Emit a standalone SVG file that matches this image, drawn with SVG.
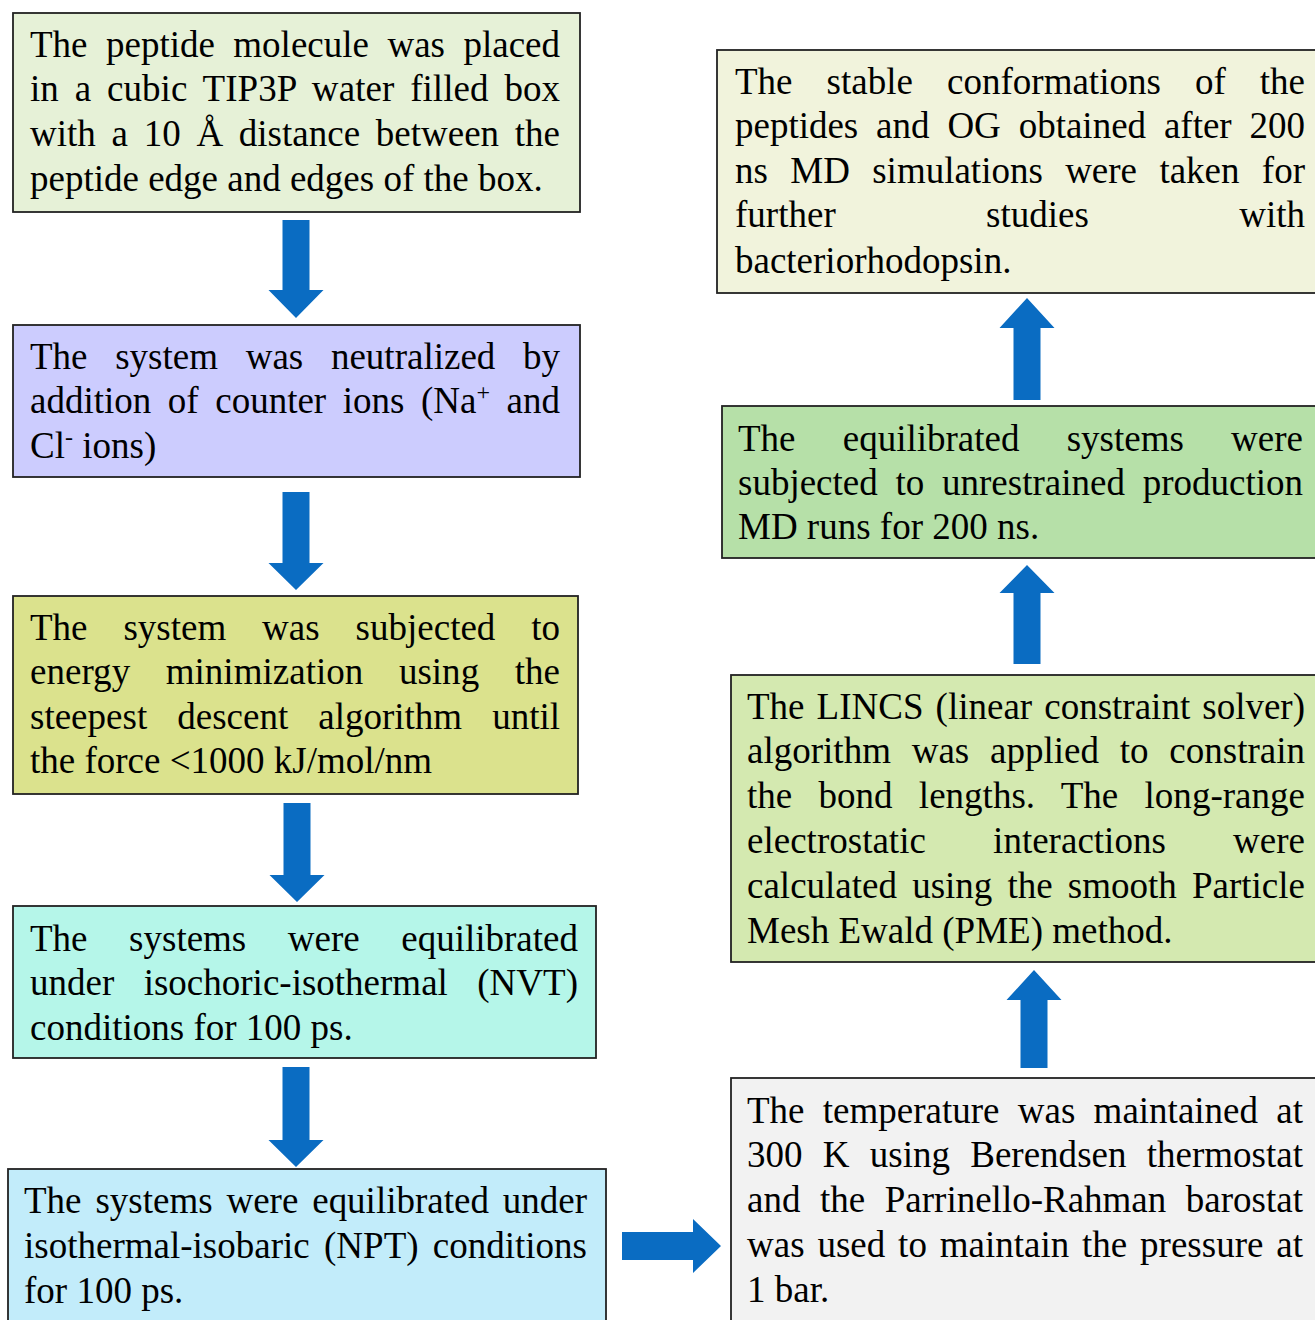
<svg xmlns="http://www.w3.org/2000/svg" width="1315" height="1320" viewBox="0 0 1315 1320">
<style>
.box{stroke:#222222;stroke-width:1.8}
.t{font-family:"Liberation Serif","Times New Roman",serif;font-size:37px;fill:#000000}
.arr{fill:#0a6cc2}
</style>
<rect width="1315" height="1320" fill="#ffffff"/>
<g id="connectors">
<polygon class="arr" points="282.5,220 309.5,220 309.5,290 323.5,290 296,318 268.5,290 282.5,290"/>
<polygon class="arr" points="282.5,492 309.5,492 309.5,563 323.5,563 296,590 268.5,563 282.5,563"/>
<polygon class="arr" points="283.5,803 310.5,803 310.5,875 324.5,875 297,902 269.5,875 283.5,875"/>
<polygon class="arr" points="282.5,1067 309.5,1067 309.5,1140 323.5,1140 296,1167 268.5,1140 282.5,1140"/>
<polygon class="arr" points="622,1232 693,1232 693,1219 721,1246 693,1273 693,1260 622,1260"/>
<polygon class="arr" points="1020.5,1068 1047.5,1068 1047.5,1000 1061.5,1000 1034,970 1006.5,1000 1020.5,1000"/>
<polygon class="arr" points="1013.5,664 1040.5,664 1040.5,593 1054.5,593 1027,565 999.5,593 1013.5,593"/>
<polygon class="arr" points="1013.5,400 1040.5,400 1040.5,328 1054.5,328 1027,298 999.5,328 1013.5,328"/>
</g>
<g id="node1">
<rect class="box" x="13" y="13" width="567" height="199" fill="#e6f1d7"/>
<text class="t" x="30" y="57" word-spacing="9.2" textLength="530" lengthAdjust="spacing">The peptide molecule was placed</text>
<text class="t" x="30" y="101" word-spacing="6.5" textLength="530" lengthAdjust="spacing">in a cubic TIP3P water filled box</text>
<text class="t" x="30" y="146" word-spacing="6.5" textLength="530" lengthAdjust="spacing">with a 10 Å distance between the</text>
<text class="t" x="30" y="191">peptide edge and edges of the box.</text>
</g>
<g id="node2">
<rect class="box" x="13" y="325" width="567" height="152" fill="#ccccfe"/>
<text class="t" x="30" y="369" word-spacing="18.4" textLength="530" lengthAdjust="spacing">The system was neutralized by</text>
<text class="t" x="30" y="413" word-spacing="7.3" textLength="530" lengthAdjust="spacing">addition of counter ions (Na<tspan font-size="24" dy="-13">+</tspan><tspan dy="13"> and</tspan></text>
<text class="t" x="30" y="458">Cl<tspan font-size="24" dy="-13">-</tspan><tspan dy="13"> ions)</tspan></text>
</g>
<g id="node3">
<rect class="box" x="13" y="596" width="565" height="198" fill="#dbe28d"/>
<text class="t" x="30" y="640" word-spacing="26.6" textLength="530" lengthAdjust="spacing">The system was subjected to</text>
<text class="t" x="30" y="684" word-spacing="26.3" textLength="530" lengthAdjust="spacing">energy minimization using the</text>
<text class="t" x="30" y="729" word-spacing="20.8" textLength="530" lengthAdjust="spacing">steepest descent algorithm until</text>
<text class="t" x="30" y="773">the force &lt;1000 kJ/mol/nm</text>
</g>
<g id="node4">
<rect class="box" x="13" y="906" width="583" height="152" fill="#b5f6e9"/>
<text class="t" x="30" y="951" word-spacing="32.3" textLength="548" lengthAdjust="spacing">The systems were equilibrated</text>
<text class="t" x="30" y="995" word-spacing="20.2" textLength="548" lengthAdjust="spacing">under isochoric-isothermal (NVT)</text>
<text class="t" x="30" y="1040">conditions for 100 ps.</text>
</g>
<g id="node5">
<rect class="box" x="8" y="1169" width="598" height="170" fill="#c2ecfa"/>
<text class="t" x="24" y="1213" word-spacing="4.6" textLength="563" lengthAdjust="spacing">The systems were equilibrated under</text>
<text class="t" x="24" y="1258" word-spacing="5" textLength="563" lengthAdjust="spacing">isothermal-isobaric (NPT) conditions</text>
<text class="t" x="24" y="1303">for 100 ps.</text>
</g>
<g id="node6">
<rect class="box" x="731" y="1078" width="600" height="260" fill="#f2f2f2"/>
<text class="t" x="747" y="1123" word-spacing="9" textLength="556" lengthAdjust="spacing">The temperature was maintained at</text>
<text class="t" x="747" y="1167" word-spacing="11" textLength="556" lengthAdjust="spacing">300 K using Berendsen thermostat</text>
<text class="t" x="747" y="1212" word-spacing="10.3" textLength="556" lengthAdjust="spacing">and the Parrinello-Rahman barostat</text>
<text class="t" x="747" y="1257" word-spacing="3.6" textLength="556" lengthAdjust="spacing">was used to maintain the pressure at</text>
<text class="t" x="747" y="1302">1 bar.</text>
</g>
<g id="node7">
<rect class="box" x="731" y="675" width="600" height="287" fill="#d4e9b0"/>
<text class="t" x="747" y="719" word-spacing="2.8" textLength="558" lengthAdjust="spacing">The LINCS (linear constraint solver)</text>
<text class="t" x="747" y="763" word-spacing="11.5" textLength="558" lengthAdjust="spacing">algorithm was applied to constrain</text>
<text class="t" x="747" y="808" word-spacing="17" textLength="558" lengthAdjust="spacing">the bond lengths. The long-range</text>
<text class="t" x="747" y="853" word-spacing="58" textLength="558" lengthAdjust="spacing">electrostatic interactions were</text>
<text class="t" x="747" y="898" word-spacing="5.9" textLength="558" lengthAdjust="spacing">calculated using the smooth Particle</text>
<text class="t" x="747" y="943">Mesh Ewald (PME) method.</text>
</g>
<g id="node8">
<rect class="box" x="722" y="406" width="610" height="152" fill="#b6e0a8"/>
<text class="t" x="738" y="451" word-spacing="38" textLength="565" lengthAdjust="spacing">The equilibrated systems were</text>
<text class="t" x="738" y="495" word-spacing="8.5" textLength="565" lengthAdjust="spacing">subjected to unrestrained production</text>
<text class="t" x="738" y="539">MD runs for 200 ns.</text>
</g>
<g id="node9">
<rect class="box" x="717" y="50" width="615" height="243" fill="#f1f3dc"/>
<text class="t" x="735" y="94" word-spacing="24.8" textLength="570" lengthAdjust="spacing">The stable conformations of the</text>
<text class="t" x="735" y="138" word-spacing="8.6" textLength="570" lengthAdjust="spacing">peptides and OG obtained after 200</text>
<text class="t" x="735" y="183" word-spacing="13.1" textLength="570" lengthAdjust="spacing">ns MD simulations were taken for</text>
<text class="t" x="735" y="227" word-spacing="141" textLength="570" lengthAdjust="spacing">further studies with</text>
<text class="t" x="735" y="273">bacteriorhodopsin.</text>
</g>
</svg>
